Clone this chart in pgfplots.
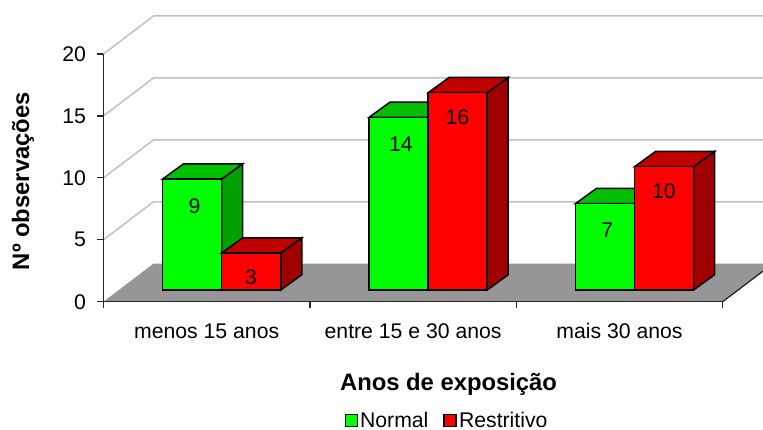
\documentclass[border=0pt]{standalone}
\usepackage{fontspec}
\setmainfont{Liberation Sans}
\usepackage{pgfplots}
\pgfplotsset{compat=1.18}
\definecolor{wallgrid}{RGB}{192,192,192}
\definecolor{floorgray}{RGB}{150,150,150}
\definecolor{gfront}{RGB}{0,255,0}
\definecolor{gtop}{RGB}{0,192,0}
\definecolor{gside}{RGB}{0,160,0}
\definecolor{rfront}{RGB}{255,0,0}
\definecolor{rtop}{RGB}{192,0,0}
\definecolor{rside}{RGB}{160,0,0}
\newcommand{\normalsz}{\fontsize{21.2}{24}\selectfont}
\newcommand{\boldsz}{\fontsize{23.8}{28}\selectfont\bfseries}
\begin{document}
\begin{tikzpicture}[x=1pt,y=1pt]
\path[use as bounding box] (0,0) rectangle (763,429);
% walls, floor, real value axis
\begin{axis}[
  at={(103.5pt,127.3pt)}, anchor=south west,
  width=619.2pt, height=247.7pt, scale only axis,
  xmin=-0.5, xmax=2.5, ymin=0, ymax=20,
  clip=false, axis on top=true,
  axis x line=bottom, axis y line=left,
  axis line style={-, black!85, line width=1.3pt},
  tick align=outside, major tick length=6pt,
  tick style={black!85, line width=1.2pt},
  /pgf/number format/assume math mode=true,
  ytick={0,5,10,15,20},
  xtick={-0.5,0.5,1.5,2.5},
  xticklabels={,,,},
  extra x ticks={0,1,2},
  extra x tick labels={menos 15 anos,entre 15 e 30 anos,mais 30 anos},
  extra x tick style={major tick length=0pt},
  tick label style={font=\normalsz},
  xticklabel style={anchor=base, yshift=-37pt},
  yticklabel style={xshift=-8pt},
  xlabel={Anos de exposição},
  ylabel={Nº observações},
  xlabel style={font=\boldsz, at={(axis description cs:0.5572,-0.3565)}, anchor=base},
  ylabel style={font=\boldsz, at={(axis description cs:-0.1203,0.487)}, anchor=base},
  legend columns=2,
  legend style={draw=none, fill=none, font=\normalsz,
    at={(axis description cs:0.5547,-0.4790)}, anchor=center,
    /tikz/every even column/.append style={column sep=13pt}},
]
\addplot[draw=none, fill=floorgray, forget plot] coordinates {(-0.5,0)(-0.2578,3.07)(2.6952,3.07)(2.6952,2.47)(2.5,0)} -- cycle;
\addplot[wallgrid, line width=1.5pt, forget plot] coordinates {(-0.5,5)(-0.2578,8.07)(2.6952,8.07)};
\addplot[wallgrid, line width=1.5pt, forget plot] coordinates {(-0.5,10)(-0.2578,13.07)(2.6952,13.07)};
\addplot[wallgrid, line width=1.5pt, forget plot] coordinates {(-0.5,15)(-0.2578,18.07)(2.6952,18.07)};
\addplot[wallgrid, line width=1.5pt, forget plot] coordinates {(-0.5,20)(-0.2578,23.07)(2.6952,23.07)};
\addplot[black!85, line width=1.3pt, forget plot] coordinates {(2.5,0)(2.6952,2.47)};
\addlegendimage{area legend, legend image code/.code={\draw[fill=gfront, draw=black, line width=1.6pt] (-2pt,-6pt) rectangle (10pt,6pt);}}
\addlegendentry{Normal}
\addlegendimage{area legend, legend image code/.code={\draw[fill=rfront, draw=black, line width=1.6pt] (-2pt,-6pt) rectangle (10pt,6pt);}}
\addlegendentry{Restritivo}
\end{axis}
% bars: the plane of the bars sits in front of the back wall
\begin{axis}[
  at={(118.5pt,139pt)}, anchor=south west,
  width=619.2pt, height=247.7pt, scale only axis,
  xmin=-0.5, xmax=2.5, ymin=0, ymax=20,
  y=12.33pt,
  clip=false, axis lines=none,
  /pgf/number format/assume math mode=true,
  nodes near coords style={font=\normalsz, black, anchor=center},
  every axis plot/.append style={draw=black, line width=1.5pt, line join=miter},
]
% green depth faces
\addplot[fill=gside] coordinates {(0,0)(0.1017,1.236)(0.1017,10.236)(0,9)} -- cycle;
\addplot[fill=gside] coordinates {(1,0)(1.1017,1.236)(1.1017,15.236)(1,14)} -- cycle;
\addplot[fill=gside] coordinates {(2,0)(2.1017,1.236)(2.1017,8.236)(2,7)} -- cycle;
\addplot[fill=gtop] coordinates {(-0.2863,9)(0,9)(0.1017,10.236)(-0.1846,10.236)} -- cycle;
\addplot[fill=gtop] coordinates {(0.7137,14)(1,14)(1.1017,15.236)(0.8154,15.236)} -- cycle;
\addplot[fill=gtop] coordinates {(1.7137,7)(2,7)(2.1017,8.236)(1.8154,8.236)} -- cycle;
% green fronts
\addplot[ybar, bar width=0.2863, bar shift=-0.14315, fill=gfront,
  nodes near coords, every node near coord/.append style={yshift=-27pt, xshift=-27.3pt}]
  coordinates {(0,9)(1,14)(2,7)};
% red depth faces
\addplot[fill=rside] coordinates {(0.2863,0)(0.388,1.236)(0.388,4.236)(0.2863,3)} -- cycle;
\addplot[fill=rside] coordinates {(1.2863,0)(1.388,1.236)(1.388,17.236)(1.2863,16)} -- cycle;
\addplot[fill=rside] coordinates {(2.2863,0)(2.388,1.236)(2.388,11.236)(2.2863,10)} -- cycle;
\addplot[fill=rtop] coordinates {(0,3)(0.2863,3)(0.388,4.236)(0.1017,4.236)} -- cycle;
\addplot[fill=rtop] coordinates {(1,16)(1.2863,16)(1.388,17.236)(1.1017,17.236)} -- cycle;
\addplot[fill=rtop] coordinates {(2,10)(2.2863,10)(2.388,11.236)(2.1017,11.236)} -- cycle;
% red fronts
\addplot[ybar, bar width=0.2863, bar shift=0.14315, fill=rfront,
  nodes near coords, every node near coord/.append style={yshift=-24.5pt, xshift=29.3pt}]
  coordinates {(0,3)(1,16)(2,10)};
\end{axis}
\end{tikzpicture}
\end{document}
